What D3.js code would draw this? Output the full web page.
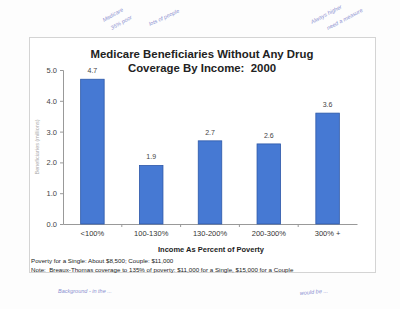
<!DOCTYPE html>
<html>
<head>
<meta charset="utf-8">
<script src="https://cdn.jsdelivr.net/npm/d3@7"></script>
<style>
  body { margin: 0; background: #fdfdfd; }
  svg { display: block; font-family: "Liberation Sans", Arial, sans-serif; }
</style>
</head>
<body>
<div class="chart-container"></div>
<script>
// data
const categories = ["<100%", "100-130%", "130-200%", "200-300%", "300% +"];
const values = [4.7, 1.9, 2.7, 2.6, 3.6];
const yTicks = [0, 1, 2, 3, 4, 5];

const width = 400;
const height = 309;
const marginTop = 70;
const marginBottom = 85;
const marginLeft = 63;
const marginRight = 40;

const svg = d3.select('.chart-container').append("svg")
    .attr("width", width)
    .attr("height", height);

// panel box
svg.append("rect")
    .attr("x", 29.5).attr("y", 37.5)
    .attr("width", 346).attr("height", 235)
    .attr("fill", "#ffffff")
    .attr("stroke", "#d4d4d4");

const x = d3.scaleBand()
    .domain(categories)
    .range([marginLeft, width - marginRight - 3])
    .paddingInner(0.6)
    .paddingOuter(0.3);

const y = d3.scaleLinear()
    .domain([0, 5])
    .range([height - marginBottom, marginTop]);

// title
svg.append("text")
    .attr("x", 202).attr("y", 58)
    .attr("text-anchor", "middle")
    .attr("font-size", 11.4).attr("font-weight", "bold")
    .attr("fill", "#222")
    .text("Medicare Beneficiaries Without Any Drug");
svg.append("text")
    .attr("x", 202).attr("y", 72)
    .attr("text-anchor", "middle")
    .attr("font-size", 11.4).attr("font-weight", "bold")
    .attr("fill", "#222")
    .style("white-space", "pre")
    .text("Coverage By Income:  2000");

// y axis
const yAxis = svg.append("g")
    .attr("transform", `translate(${marginLeft},0)`)
    .call(d3.axisLeft(y).tickValues(yTicks).tickFormat(d3.format(".1f")).tickSize(3));
yAxis.select(".domain").attr("stroke", "#999");
yAxis.selectAll(".tick line").attr("stroke", "#999");
yAxis.selectAll(".tick text").attr("font-size", 7.5).attr("fill", "#444").attr("x", -6);

// x axis
const xAxis = svg.append("g")
    .attr("transform", `translate(0,${height - marginBottom})`)
    .call(d3.axisBottom(x).tickSize(0));
xAxis.select(".domain").attr("stroke", "#999");
xAxis.selectAll(".tick text").attr("font-size", 7.5).attr("fill", "#333").attr("dy", "1.2em");
// ticks between categories
const step = x.step();
svg.append("g").selectAll("line")
    .data(categories.slice(1))
    .join("line")
    .attr("x1", d => x(d) - (step - x.bandwidth()) / 2)
    .attr("x2", d => x(d) - (step - x.bandwidth()) / 2)
    .attr("y1", y(0)).attr("y2", y(0) + 3)
    .attr("stroke", "#999");

// y label
svg.append("text")
    .attr("transform", `translate(39,${(y(0) + y(5)) / 2}) rotate(-90)`)
    .attr("text-anchor", "middle")
    .attr("font-size", 5.5)
    .attr("fill", "#aaa")
    .text("Beneficiaries (millions)");

// bars
svg.selectAll(".bar")
    .data(values)
    .join("rect")
    .attr("class", "bar")
    .attr("x", (d, i) => x(categories[i]))
    .attr("y", d => y(d))
    .attr("width", x.bandwidth())
    .attr("height", d => y(0) - y(d))
    .attr("fill", "#4679d3")
    .attr("stroke", "#2d58a8")
    .attr("stroke-width", 0.8);

// value labels
svg.selectAll(".val")
    .data(values)
    .join("text")
    .attr("class", "val")
    .attr("x", (d, i) => x(categories[i]) + x.bandwidth() / 2)
    .attr("y", d => y(d) - 6)
    .attr("text-anchor", "middle")
    .attr("font-size", 7)
    .attr("fill", "#444")
    .text(d => d.toFixed(1));

// x title
svg.append("text")
    .attr("x", 211).attr("y", 252)
    .attr("text-anchor", "middle")
    .attr("font-size", 7.5).attr("font-weight", "bold")
    .attr("fill", "#222")
    .text("Income As Percent of Poverty");

// notes
svg.append("text")
    .attr("x", 31).attr("y", 263)
    .attr("font-size", 6.2).attr("fill", "#222")
    .text("Poverty for a Single: About $8,500; Couple: $11,000");
svg.append("text")
    .attr("x", 31).attr("y", 271.5)
    .attr("font-size", 6.2).attr("fill", "#222")
    .style("white-space", "pre")
    .text("Note:  Breaux-Thomas coverage to 135% of poverty: $11,000 for a Single, $15,000 for a Couple");

// handwritten margin notes
const notes = [
  {t: "Medicare", x: 104, y: 22, r: -30},
  {t: "35% poor", x: 112, y: 30, r: -30},
  {t: "lots of people", x: 150, y: 26, r: -25},
  {t: "Always higher", x: 312, y: 24, r: -28},
  {t: "need a measure", x: 328, y: 30, r: -28},
  {t: "Background - in the ...", x: 58, y: 293, r: 0},
  {t: "would be ...", x: 300, y: 295, r: -5}
];
svg.selectAll(".note")
    .data(notes)
    .join("text")
    .attr("class", "note")
    .attr("transform", d => `translate(${d.x},${d.y}) rotate(${d.r})`)
    .attr("font-size", 5.5)
    .attr("font-style", "italic")
    .attr("fill", "#8a8fd0")
    .text(d => d.t);
</script>
</body>
</html>
